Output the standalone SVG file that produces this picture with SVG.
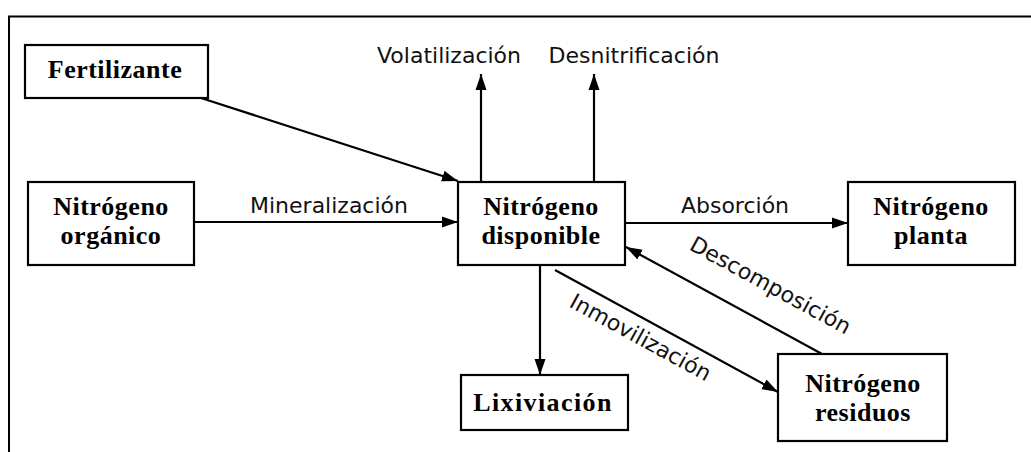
<svg xmlns="http://www.w3.org/2000/svg" width="1031" height="452" viewBox="0 0 1031 452">
<style>
.box{fill:#fff;stroke:#000;stroke-width:2.2}
.nt{font-family:"Liberation Serif","Times New Roman",serif;font-weight:bold;font-size:26px;letter-spacing:0.5px;text-anchor:middle;fill:#000}
.lbl{font-family:"DejaVu Sans",Verdana,sans-serif;font-size:22px;text-anchor:middle;fill:#111}
.ed{stroke:#000;stroke-width:2.2;fill:none;marker-end:url(#ah)}
</style>
<defs>
<marker id="ah" markerUnits="userSpaceOnUse" markerWidth="17" markerHeight="12" refX="16" refY="6" orient="auto">
<path d="M0,0.5 L16,6 L0,11.5 z" fill="#000"/>
</marker>
</defs>
<rect width="1031" height="452" fill="#fff"/>
<path d="M9,452 V16.5 H1031" fill="none" stroke="#000" stroke-width="2"/>
<g id="connectors">
<line class="ed" x1="201" y1="98" x2="458" y2="181"/>
<line class="ed" x1="194" y1="222" x2="458" y2="222"/>
<line class="ed" x1="481" y1="182" x2="481" y2="74"/>
<line class="ed" x1="594" y1="182" x2="594" y2="74"/>
<line class="ed" x1="625" y1="223" x2="848" y2="223"/>
<line class="ed" x1="540" y1="265" x2="540" y2="375"/>
<line class="ed" x1="555" y1="270" x2="778" y2="392"/>
<line class="ed" x1="822" y1="354" x2="626" y2="247"/>
<text class="lbl" x="329" y="213">Mineralización</text>
<text class="lbl" x="449" y="63">Volatilización</text>
<text class="lbl" x="634" y="63">Desnitrificación</text>
<text class="lbl" x="735" y="213">Absorción</text>
<text class="lbl" transform="translate(637,344) rotate(28.7)">Inmovilización</text>
<text class="lbl" transform="translate(767,292) rotate(28.6)">Descomposición</text>
</g>
<g id="fertilizante">
<rect class="box" x="25" y="45" width="183" height="53"/>
<text class="nt" x="115" y="78">Fertilizante</text>
</g>
<g id="organico">
<rect class="box" x="28" y="182" width="166" height="83"/>
<text class="nt" x="111" y="215">Nitrógeno</text>
<text class="nt" x="111" y="244">orgánico</text>
</g>
<g id="disponible">
<rect class="box" x="458" y="182" width="167" height="83"/>
<text class="nt" x="541" y="215">Nitrógeno</text>
<text class="nt" x="541" y="244">disponible</text>
</g>
<g id="planta">
<rect class="box" x="848" y="182" width="167" height="83"/>
<text class="nt" x="931" y="215">Nitrógeno</text>
<text class="nt" x="931" y="244">planta</text>
</g>
<g id="lixiviacion">
<rect class="box" x="461" y="375" width="167" height="55"/>
<text class="nt" x="543" y="411" style="letter-spacing:1.4px">Lixiviación</text>
</g>
<g id="residuos">
<rect class="box" x="778" y="354" width="169" height="87"/>
<text class="nt" x="863" y="392">Nitrógeno</text>
<text class="nt" x="863" y="421">residuos</text>
</g>
</svg>
